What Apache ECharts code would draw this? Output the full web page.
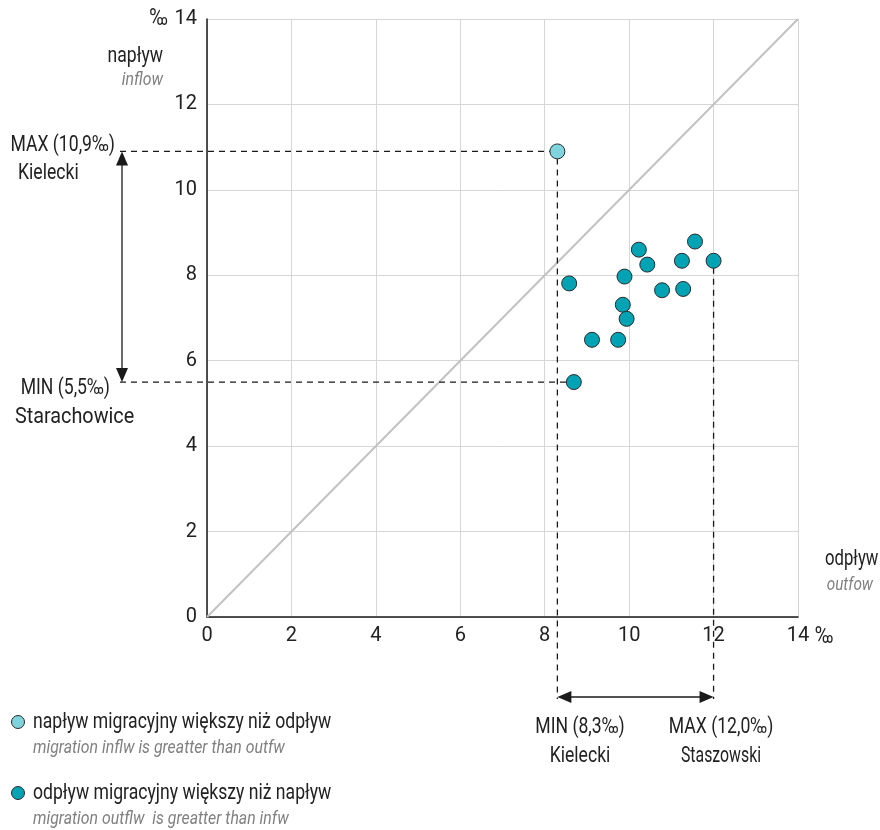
<!DOCTYPE html>
<html><head><meta charset="utf-8">
<script src="https://cdn.jsdelivr.net/npm/echarts@6/dist/echarts.min.js"></script>
<style>html,body{margin:0;padding:0;background:#fff}#c{width:880px;height:830px}</style>
</head><body><div id="c"></div>
<script>
const xTicks = [0, 2, 4, 6, 8, 10, 12, 14];
const yTicks = [0, 2, 4, 6, 8, 10, 12, 14];
// inflow greater than outflow (light)
const lightOutflow = [8.3];
const lightInflow = [10.9];
// outflow greater than inflow (dark)
const darkOutflow = [8.58, 8.69, 9.12, 9.74, 9.89, 9.85, 9.94, 10.23, 10.43, 10.78, 11.25, 11.28, 11.56, 12.0];
const darkInflow  = [7.81, 5.5, 6.49, 6.49, 7.97, 7.31, 6.98, 8.60, 8.25, 7.65, 8.34, 7.68, 8.79, 8.34];
// annotations
const maxInflowLabel = ['MAX (10,9‰)', 'Kielecki'];
const minInflowLabel = ['MIN (5,5‰)', 'Starachowice'];
const minOutflowLabel = ['MIN (8,3‰)', 'Kielecki'];
const maxOutflowLabel = ['MAX (12,0‰)', 'Staszowski'];
const legendTexts = [
  ['napływ migracyjny większy niż odpływ', 'migration inflw is greatter than outfw'],
  ['odpływ migracyjny większy niż napływ', 'migration outflw  is greatter than infw']
];

const FONT = 'Roboto, "Liberation Sans", sans-serif';
const LIGHT = '#7fd3dc';
const DARK = '#00a3b4';

const chart = echarts.init(document.getElementById('c'), null, {renderer: 'canvas'});
const zip = (a, b) => a.map((v, i) => [v, b[i]]);

chart.setOption({
  animation: false,
  grid: {left: 207, top: 19, width: 591, height: 598},
  xAxis: {
    type: 'value', min: xTicks[0], max: xTicks[xTicks.length - 1], interval: xTicks[1] - xTicks[0],
    axisLine: {show: true, lineStyle: {color: '#1a1a1a', width: 1.5}},
    axisTick: {show: false},
    axisLabel: {color: '#222', fontSize: 20, fontFamily: FONT, margin: 9},
    splitLine: {show: true, lineStyle: {color: '#d6d6d6', width: 1}}
  },
  yAxis: {
    type: 'value', min: yTicks[0], max: yTicks[yTicks.length - 1], interval: yTicks[1] - yTicks[0],
    axisLine: {show: true, onZero: false, lineStyle: {color: '#1a1a1a', width: 1.5}},
    axisTick: {show: false},
    axisLabel: {color: '#222', fontSize: 20, fontFamily: FONT, margin: 10},
    splitLine: {show: true, lineStyle: {color: '#d6d6d6', width: 1}}
  },
  series: [
    {type: 'line', data: [[0, 0], [14, 14]], symbol: 'none', silent: true,
     lineStyle: {color: '#c2c2c2', width: 2}, z: 1},
    {type: 'scatter', data: zip(darkOutflow, darkInflow), symbolSize: 15,
     itemStyle: {color: DARK, borderColor: '#2a2a2a', borderWidth: 1, opacity: 1}, z: 5},
    {type: 'scatter', data: zip(lightOutflow, lightInflow), symbolSize: 15,
     itemStyle: {color: LIGHT, borderColor: '#2a2a2a', borderWidth: 1, opacity: 1}, z: 5}
  ]
});

const px = (x, y) => chart.convertToPixel({gridIndex: 0}, [x, y]);
const maxIn = px(lightOutflow[0], lightInflow[0]);
const iMinIn = darkInflow.indexOf(Math.min(...darkInflow));
const minIn = px(darkOutflow[iMinIn], darkInflow[iMinIn]);
const minOut = maxIn;
const iMaxOut = darkOutflow.indexOf(Math.max(...darkOutflow));
const maxOut = px(darkOutflow[iMaxOut], darkInflow[iMaxOut]);

const arrowX = 122;
const arrowY = 697;
const dash = {stroke: '#1a1a1a', lineWidth: 1.3, lineDash: [6, 5]};
const g = [];
function line(x1, y1, x2, y2, style) {
  g.push({type: 'line', shape: {x1, y1, x2, y2}, style: Object.assign({}, style), z: 3, silent: true});
}
function tri(points) {
  g.push({type: 'polygon', shape: {points}, style: {fill: '#1a1a1a'}, z: 4, silent: true});
}
function text(x, y, t, opts, sx) {
  g.push({type: 'text', x, y, z: 6, silent: true, scaleX: sx || 0.8, style: Object.assign({
    text: t, font: '22px ' + FONT, fill: '#222', textAlign: 'left', textVerticalAlign: 'middle'
  }, opts || {})});
}
const ITALIC = {font: 'italic 18px ' + FONT, fill: '#808080'};
// dashed guides
line(arrowX - 2, maxIn[1], maxIn[0] - 7, maxIn[1], dash);
line(arrowX - 2, minIn[1], minIn[0] - 7, minIn[1], dash);
line(minOut[0], minOut[1] + 7, minOut[0], arrowY + 2, dash);
line(maxOut[0], maxOut[1] + 7, maxOut[0], arrowY + 2, dash);
// vertical double arrow
line(arrowX, maxIn[1] + 12, arrowX, minIn[1] - 12, {stroke: '#1a1a1a', lineWidth: 1.3});
tri([[arrowX, maxIn[1]], [arrowX - 6, maxIn[1] + 14], [arrowX + 6, maxIn[1] + 14]]);
tri([[arrowX, minIn[1]], [arrowX - 6, minIn[1] - 14], [arrowX + 6, minIn[1] - 14]]);
// horizontal double arrow
line(minOut[0] + 12, arrowY, maxOut[0] - 12, arrowY, {stroke: '#1a1a1a', lineWidth: 1.3});
tri([[minOut[0], arrowY], [minOut[0] + 14, arrowY - 6], [minOut[0] + 14, arrowY + 6]]);
tri([[maxOut[0], arrowY], [maxOut[0] - 14, arrowY - 6], [maxOut[0] - 14, arrowY + 6]]);

// annotation labels
text(115, 145, maxInflowLabel[0], {textAlign: 'right'});
text(18, 173, maxInflowLabel[1]);
text(110, 388, minInflowLabel[0], {textAlign: 'right'});
text(15, 417, minInflowLabel[1], null, 0.9);
text(580, 727, minOutflowLabel[0], {textAlign: 'center'});
text(580, 756, minOutflowLabel[1], {textAlign: 'center'});
text(721, 727, maxOutflowLabel[0], {textAlign: 'center'});
text(721, 756, maxOutflowLabel[1], {textAlign: 'center'}, 0.72);

// axis titles
text(168, 19, '‰', {textAlign: 'right', font: '24px ' + FONT});
text(163, 56, 'napływ', {textAlign: 'right'});
text(163, 80, 'inflow', Object.assign({textAlign: 'right'}, ITALIC), 0.88);
text(815, 637, '‰', {font: '24px ' + FONT});
text(825, 559, 'odpływ', null, 0.76);
text(873, 585, 'outfow', Object.assign({textAlign: 'right'}, ITALIC), 0.85);

// legend
const legendColors = [LIGHT, DARK];
const legendY = [722, 793];
legendTexts.forEach((lt, i) => {
  g.push({type: 'circle', shape: {cx: 18, cy: legendY[i], r: 6.5},
    style: {fill: legendColors[i], stroke: '#2a2a2a', lineWidth: 1}, z: 6, silent: true});
  text(33, legendY[i], lt[0]);
  text(33, legendY[i] + 26, lt[1], ITALIC, 0.88);
});

chart.setOption({graphic: g});
</script>
</body></html>
